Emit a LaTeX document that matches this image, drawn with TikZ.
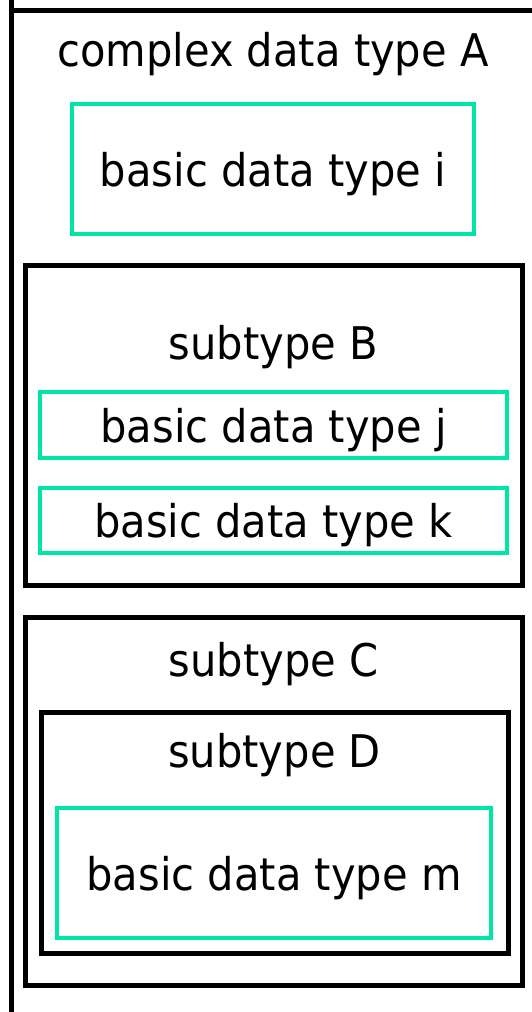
\documentclass[tikz,border=0pt]{standalone}
\usepackage{fontspec}
\setmainfont{DejaVu Sans}[FakeStretch=0.925]
\definecolor{basicgreen}{RGB}{0,228,168}
\begin{document}
\begin{tikzpicture}[
    x=1pt, y=-1pt,
    font=\fontsize{45}{54}\selectfont,
    typebox/.style={rectangle, draw=black, line width=5pt, inner sep=0pt},
    basicbox/.style={rectangle, draw=basicgreen, line width=4pt, inner sep=0pt, text depth=0pt},
    typename/.style={anchor=base, inner sep=0pt}
]
\useasboundingbox (0,0) rectangle (532,1012);
% Rahmen von A
\draw[line width=5pt] (11,0) -- (11,1012);
\draw[line width=5pt] (11,10) -- (532,10);
\node[typename] (nameA) at (273,66) {complex data type A};
\node[basicbox, minimum width=402, minimum height=130] (i) at (273,169) {basic data type i};

% Subtyp B
\node[typebox, minimum width=497, minimum height=320] (B) at (273.5,425) {};
\node[typename] (nameB) at (273.5,359) {subtype B};
\node[basicbox, minimum width=467, minimum height=66] (j) at (273.5,425) {basic data type j};
\node[basicbox, minimum width=467, minimum height=65] (k) at (273.5,520.5) {basic data type k};

% Subtyp C und D
\node[typebox, minimum width=497, minimum height=368] (C) at (273.5,801) {};
\node[typename] (nameC) at (273.5,676) {subtype C};
\node[typebox, minimum width=467, minimum height=241] (D) at (274.5,832.5) {};
\node[typename] (nameD) at (274.5,767) {subtype D};
\node[basicbox, minimum width=434, minimum height=130] (m) at (274,873) {basic data type m};
\end{tikzpicture}
\end{document}
